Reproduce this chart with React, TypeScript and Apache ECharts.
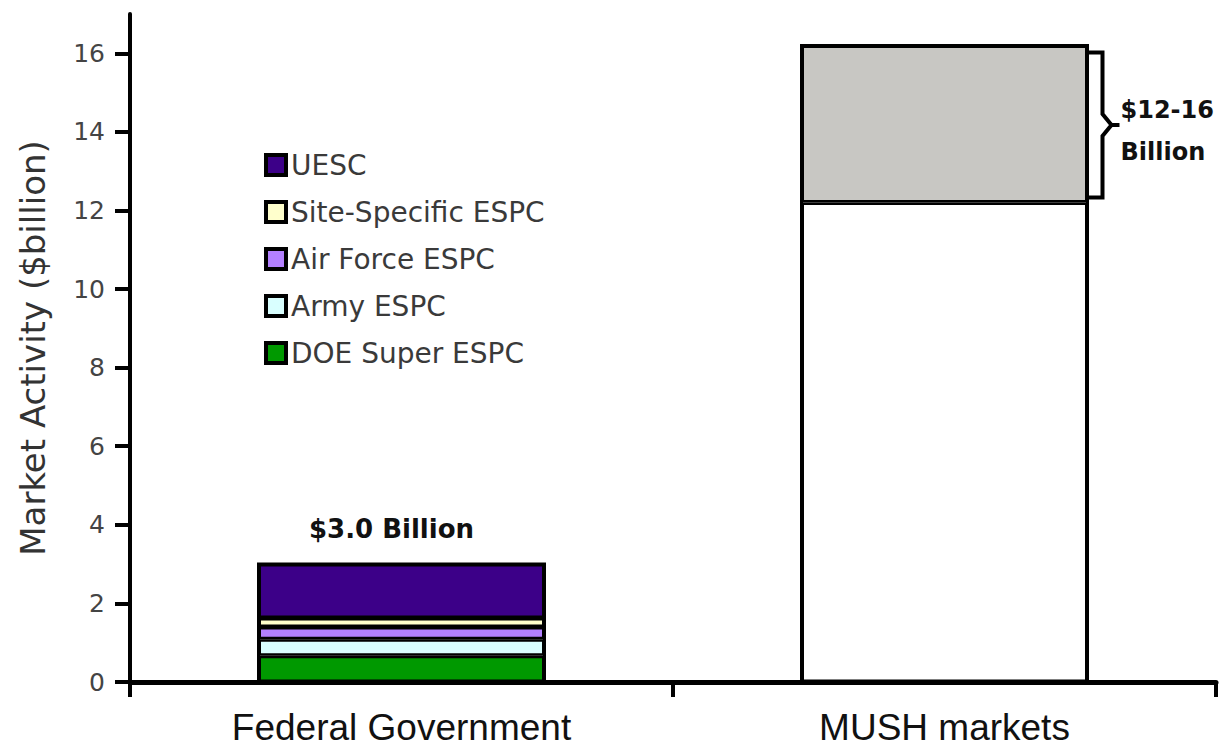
import React, { useEffect, useRef } from 'react';
import * as echarts from 'echarts';

const categories = ['Federal Government', 'MUSH markets'];
const legendNames = ['UESC', 'Site-Specific ESPC', 'Air Force ESPC', 'Army ESPC', 'DOE Super ESPC'];
// Federal stack, bottom -> top
const federalSeriesNames = ['DOE Super ESPC', 'Army ESPC', 'Air Force ESPC', 'Site-Specific ESPC', 'UESC'];
const federalValues = [0.67, 0.42, 0.31, 0.23, 1.37];
const federalColors = ['#009900', '#D9FFFF', '#B380FF', '#FFFFCC', '#3C0088'];
const mushBase = 12.2;
const mushRange = 4.0;
const mushColors = ['#FFFFFF', '#C8C7C3'];
const federalTotalLabel = '$3.0 Billion';
const mushLabelLines = ['$12-16', 'Billion'];
const yTicks = [0, 2, 4, 6, 8, 10, 12, 14, 16];
const yMax = 17;

const BAR_W = 286;

export default function App() {
  const ref = useRef<HTMLDivElement>(null);
  useEffect(() => {
    if (!ref.current) return;
    const chart = echarts.init(ref.current, undefined, { renderer: 'svg' });
    const border = { borderColor: '#000', borderWidth: 2.5 };
    const series: any[] = federalSeriesNames.map((name, i) => ({
      name,
      type: 'bar',
      stack: 'total',
      barWidth: BAR_W,
      data: [federalValues[i], '-'],
      itemStyle: { color: federalColors[i], ...border },
      label:
        i === federalSeriesNames.length - 1
          ? {
              show: true,
              position: 'top',
              distance: 22,
              offset: [-10, 0],
              formatter: federalTotalLabel,
              fontFamily: 'DejaVu Sans',
              fontWeight: 'bold',
              fontSize: 26,
              color: '#111',
            }
          : { show: false },
    }));
    series.push({
      name: 'MUSH base',
      type: 'bar',
      stack: 'total',
      barWidth: BAR_W,
      data: ['-', mushBase],
      itemStyle: { color: mushColors[0], ...border },
    });
    series.push({
      name: 'MUSH range',
      type: 'bar',
      stack: 'total',
      barWidth: BAR_W,
      data: ['-', mushRange],
      itemStyle: { color: mushColors[1], ...border },
    });

    chart.setOption({
      animation: false,
      backgroundColor: '#fff',
      grid: { left: 130, right: 3, top: 14, bottom: 70 },
      legend: {
        orient: 'vertical',
        left: 259,
        top: 146,
        itemWidth: 20,
        itemHeight: 20,
        itemGap: 19,
        icon: 'rect',
        selectedMode: false,
        data: legendNames,
        itemStyle: { borderColor: '#000', borderWidth: 4 },
        textStyle: { fontSize: 28, fontFamily: 'DejaVu Sans', color: '#3a3a3a' },
      },
      xAxis: {
        type: 'category',
        data: categories,
        axisLine: { show: true, lineStyle: { color: '#000', width: 5 } },
        axisTick: { show: true, length: 15, lineStyle: { color: '#000', width: 4 } },
        axisLabel: { fontSize: 37, fontFamily: 'Liberation Sans', color: '#111', margin: 27 },
      },
      yAxis: {
        type: 'value',
        min: 0,
        max: yMax,
        interval: 2,
        name: 'Market Activity ($billion)',
        nameLocation: 'middle',
        nameGap: 80,
        nameTextStyle: { fontSize: 34, fontFamily: 'DejaVu Sans', color: '#333' },
        axisLine: { show: true, lineStyle: { color: '#000', width: 4 } },
        axisTick: { show: true, length: 15, customValues: yTicks, lineStyle: { color: '#000', width: 4 } },
        axisLabel: { customValues: yTicks, fontSize: 25, fontFamily: 'DejaVu Sans', color: '#444', margin: 25 },
        splitLine: { show: false },
      },
      series,
    });

    const toPx = (c: number, v: number) => chart.convertToPixel({ gridIndex: 0 }, [c, v]) as number[];
    const fedTotal = federalValues.reduce((a, b) => a + b, 0);
    const [cx0, yFedTop] = toPx(0, fedTotal);
    const [, yZero] = toPx(0, 0);
    const [cx, yTop] = toPx(1, mushBase + mushRange);
    const [, yBase] = toPx(1, mushBase);
    const xR = cx + BAR_W / 2;
    const t = yTop + 7;
    const b = yBase - 5;
    const m = (t + b) / 2;
    const vx = xR + 15;
    const lineStyle = { stroke: '#000', lineWidth: 4, fill: 'none' };
    const outline = { stroke: '#000', lineWidth: 3, fill: 'none' };
    const textStyle = {
      fontFamily: 'DejaVu Sans',
      fontWeight: 'bold',
      fontSize: 24,
      fill: '#111',
      verticalAlign: 'middle',
      align: 'left',
    };
    chart.setOption({
      graphic: [
        {
          type: 'rect',
          z: 10,
          shape: { x: cx0 - BAR_W / 2, y: yFedTop, width: BAR_W, height: yZero - yFedTop },
          style: outline,
        },
        {
          type: 'rect',
          z: 10,
          shape: { x: cx - BAR_W / 2, y: yTop, width: BAR_W, height: yZero - yTop },
          style: outline,
        },
        {
          type: 'polyline',
          shape: { points: [[xR + 1, t], [vx, t], [vx, m - 11], [vx + 9, m], [vx, m + 11], [vx, b], [xR + 1, b]] },
          style: lineStyle,
        },
        { type: 'line', shape: { x1: vx + 7, y1: m, x2: vx + 17, y2: m }, style: lineStyle },
        { type: 'text', x: vx + 18, y: m - 15, style: { ...textStyle, text: mushLabelLines[0] } },
        { type: 'text', x: vx + 18, y: m + 27, style: { ...textStyle, text: mushLabelLines[1] } },
      ],
    });
    return () => chart.dispose();
  }, []);
  return (
    <div
      ref={ref}
      style={{ position: 'fixed', left: 0, top: 0, width: 1219, height: 752, background: '#fff' }}
    />
  );
}
